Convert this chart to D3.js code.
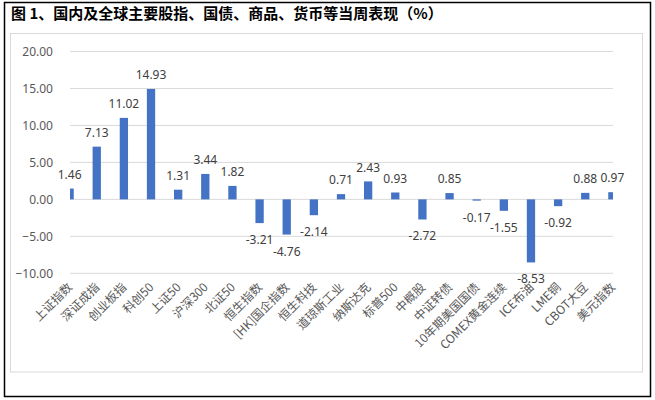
<!DOCTYPE html>
<html>
<head>
<meta charset="utf-8">
<script src="https://cdn.jsdelivr.net/npm/d3@7/dist/d3.min.js"></script>
<style>
  html, body { margin: 0; padding: 0; background: #fff; }
  svg { display: block; }
</style>
</head>
<body>
<svg id="chart" width="655" height="400"></svg>
<script>
const titleText = "图 1、国内及全球主要股指、国债、商品、货币等当周表现（%）";
const categories = ["上证指数","深证成指","创业板指","科创50","上证50","沪深300","北证50","恒生指数","[HK]国企指数","恒生科技","道琼斯工业","纳斯达克","标普500","中概股","中证转债","10年期美国国债","COMEX黄金连续","ICE布油","LME铜","CBOT大豆","美元指数"];
const values = [1.46, 7.13, 11.02, 14.93, 1.31, 3.44, 1.82, -3.21, -4.76, -2.14, 0.71, 2.43, 0.93, -2.72, 0.85, -0.17, -1.55, -8.53, -0.92, 0.88, 0.97];
const yTicks = [-10, -5, 0, 5, 10, 15, 20];

const svg = d3.select("#chart");
const numFont = "'Noto Sans', 'DejaVu Sans', sans-serif";
const cjkFont = "'Noto Sans CJK SC', 'Noto Sans', sans-serif";

// outer frame
svg.append("rect").attr("x", 4.5).attr("y", 2.5).attr("width", 646).attr("height", 394)
  .attr("fill", "none").attr("stroke", "#000").attr("stroke-width", 1.5);

// title
svg.append("text").attr("x", 11).attr("y", 19)
  .attr("font-family", cjkFont).attr("font-weight", "bold").attr("font-size", 15)
  .attr("fill", "#000").text(titleText);

// chart area border
svg.append("rect").attr("x", 10.5).attr("y", 33.5).attr("width", 632).attr("height", 338.5)
  .attr("fill", "#fff").attr("stroke", "#d9d9d9").attr("stroke-width", 1);

const plotL = 70, plotR = 613;
const x = d3.scalePoint().domain(categories).range([69.6, 612.4]);
const y = d3.scaleLinear().domain([-10, 20]).range([273.3, 51.5]);

// gridlines
svg.append("g").selectAll("line").data(yTicks).join("line")
  .attr("x1", plotL).attr("x2", plotR)
  .attr("y1", d => y(d)).attr("y2", d => y(d))
  .attr("stroke", "#d9d9d9").attr("stroke-width", 1);

// y axis labels
const yAxis = d3.axisLeft(y).tickValues(yTicks).tickFormat(d3.format(".2f")).tickSize(0).tickPadding(0);
const ya = svg.append("g").attr("transform", "translate(53,0)").call(yAxis);
ya.select(".domain").remove();
ya.selectAll("text").attr("font-family", numFont).attr("font-size", 12).attr("fill", "#595959");

// clip
svg.append("clipPath").attr("id", "plotclip").append("rect")
  .attr("x", plotL).attr("y", 40).attr("width", plotR - plotL).attr("height", 250);

const barW = 8.3;
svg.append("g").attr("clip-path", "url(#plotclip)").selectAll("rect").data(values).join("rect")
  .attr("x", (d, i) => x(categories[i]) - barW / 2)
  .attr("width", barW)
  .attr("y", d => Math.min(y(d), y(0)))
  .attr("height", d => Math.abs(y(d) - y(0)))
  .attr("fill", "#4472C4");

// data labels
svg.append("g").selectAll("text").data(values).join("text")
  .attr("x", (d, i) => x(categories[i]))
  .attr("y", d => d >= 0 ? y(d) - 9.7 : y(d) + 21)
  .attr("text-anchor", "middle")
  .attr("font-family", numFont).attr("font-size", 12).attr("fill", "#404040")
  .text(d => d.toFixed(2));

// category labels
const xAxis = d3.axisBottom(x).tickSize(0).tickPadding(0);
const xa = svg.append("g").attr("transform", "translate(0,285)").call(xAxis);
xa.select(".domain").remove();
xa.selectAll("text")
  .attr("font-family", cjkFont).attr("font-size", 12).attr("fill", "#595959")
  .attr("text-anchor", "end")
  .attr("y", 0).attr("dy", "0.35em")
  .attr("transform", "rotate(-45)");
</script>
</body>
</html>
